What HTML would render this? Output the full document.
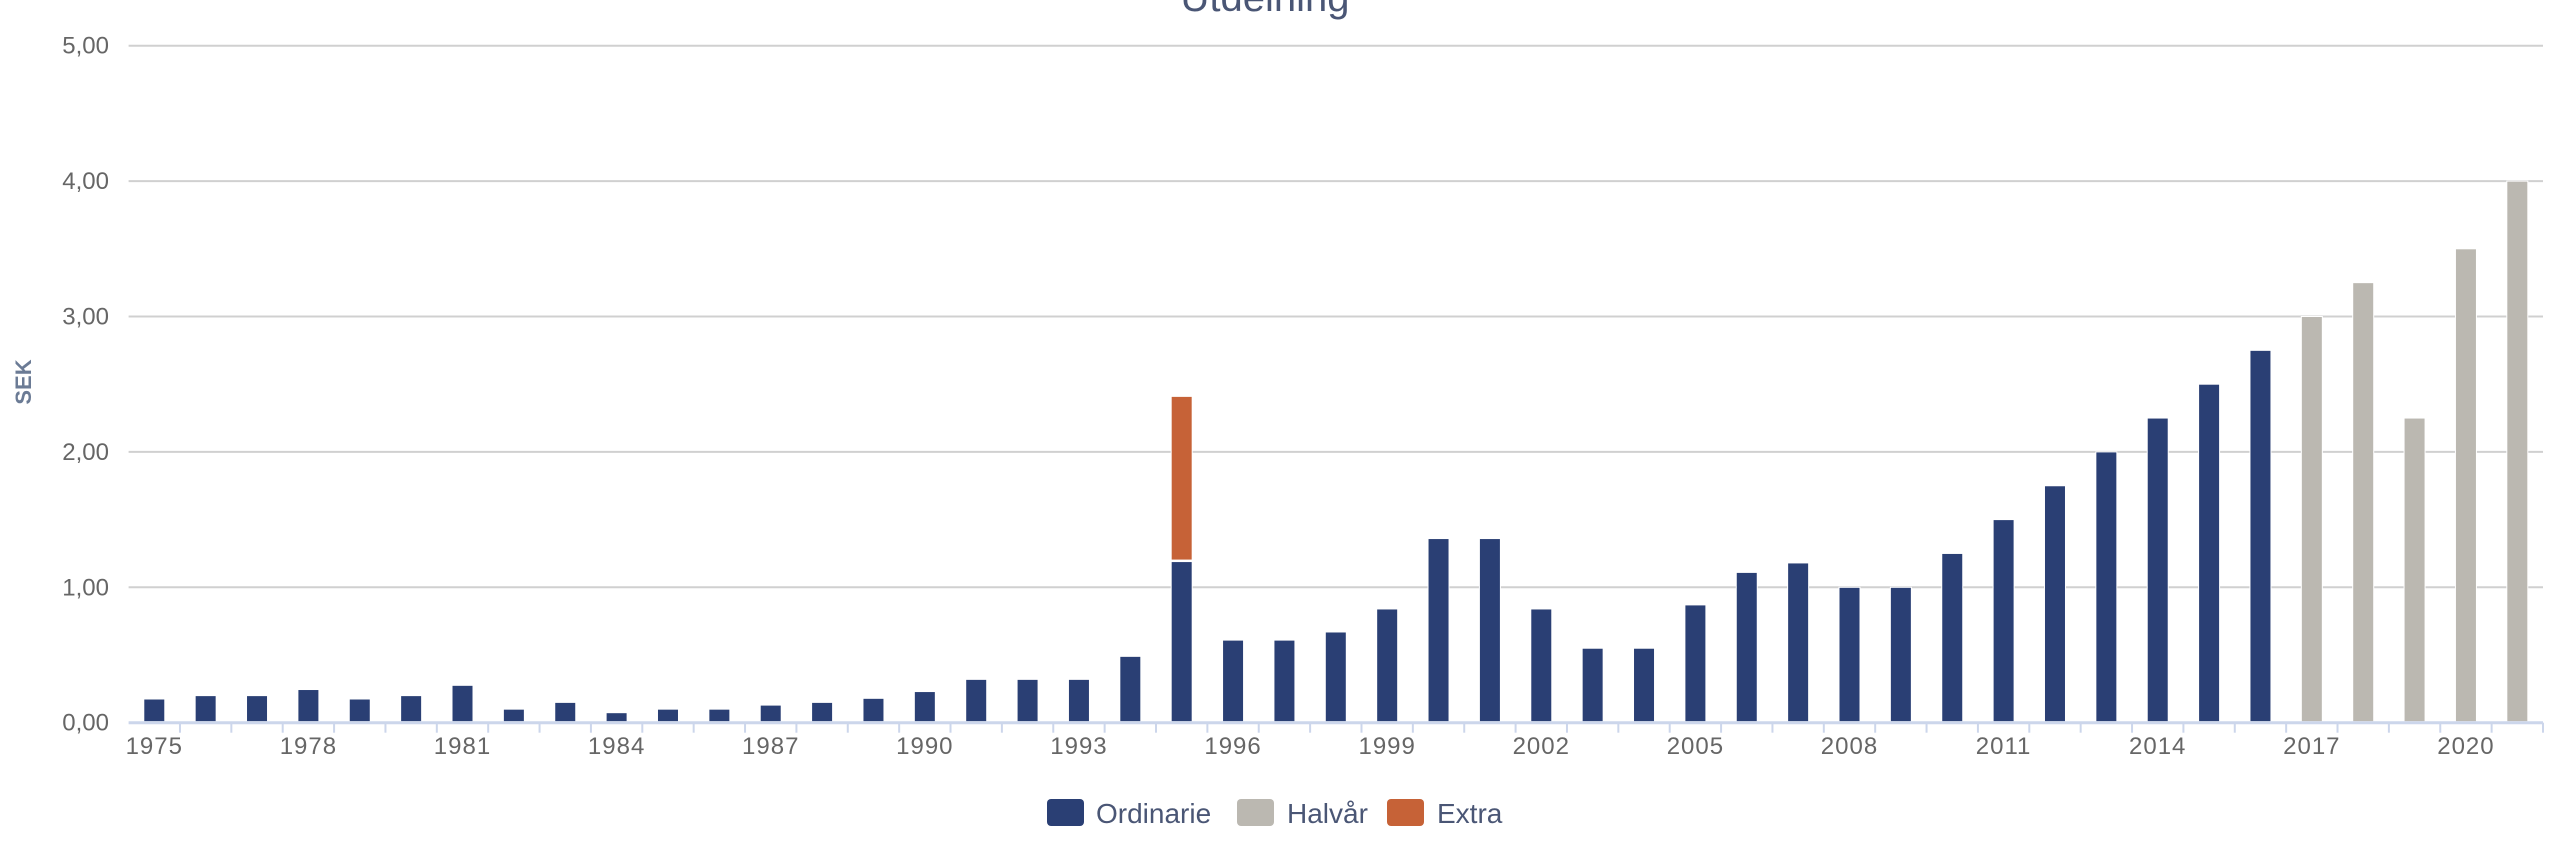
<!DOCTYPE html>
<html><head><meta charset="utf-8"><style>
html,body{margin:0;padding:0;background:#fff;}
svg{display:block;font-family:"Liberation Sans",sans-serif;}
</style></head><body>
<svg id="chart" width="2560" height="859" viewBox="0 0 2560 859" xmlns="http://www.w3.org/2000/svg">
<text x="1265" y="11" text-anchor="middle" font-size="40" fill="#4a5675">Utdelning</text>
<text x="0" y="0" transform="translate(31,382) rotate(-90)" text-anchor="middle" font-size="22" font-weight="bold" fill="#6b7b95">SEK</text>
<g id="grid"></g><g id="bars"></g><g id="xaxis"></g>
<g>
<g><rect x="1047" y="799" width="37" height="27" rx="4" fill="#2a3f74"/><text x="1096" y="823" font-size="28" fill="#4a5675">Ordinarie</text></g>
<g><rect x="1237" y="799" width="37" height="27" rx="4" fill="#bbb8b1"/><text x="1287" y="823" font-size="28" fill="#4a5675">Halvår</text></g>
<g><rect x="1387" y="799" width="37" height="27" rx="4" fill="#c66237"/><text x="1437" y="823" font-size="28" fill="#4a5675">Extra</text></g>
</g>
</svg>
<script>
const years = [1975,1976,1977,1978,1979,1980,1981,1982,1983,1984,1985,1986,1987,1988,1989,1990,1991,1992,1993,1994,1995,1996,1997,1998,1999,2000,2001,2002,2003,2004,2005,2006,2007,2008,2009,2010,2011,2012,2013,2014,2015,2016,2017,2018,2019,2020,2021];
const ordinarie = [0.175,0.20,0.20,0.245,0.175,0.20,0.276,0.10,0.15,0.074,0.10,0.10,0.13,0.15,0.18,0.23,0.32,0.32,0.32,0.49,1.19,0.61,0.61,0.67,0.84,1.36,1.36,0.84,0.55,0.55,0.87,1.11,1.18,1.00,1.00,1.25,1.50,1.75,2.00,2.25,2.50,2.75,0,0,0,0,0];
const halvar = [0,0,0,0,0,0,0,0,0,0,0,0,0,0,0,0,0,0,0,0,0,0,0,0,0,0,0,0,0,0,0,0,0,0,0,0,0,0,0,0,0,0,3.00,3.25,2.25,3.50,4.00];
const extra = [0,0,0,0,0,0,0,0,0,0,0,0,0,0,0,0,0,0,0,0,1.22,0,0,0,0,0,0,0,0,0,0,0,0,0,0,0,0,0,0,0,0,0,0,0,0,0,0];
const yTicks = [0,1,2,3,4,5];
const yTickLabels = ["0,00","1,00","2,00","3,00","4,00","5,00"];

const NS="http://www.w3.org/2000/svg";
const X0=128.6, X1=2543, Y0=722.7, YPX=135.4;
const step=(X1-X0)/years.length;
const y=v=>Y0-v*YPX;
const xc=i=>X0+(i+0.5)*step;
function mk(t,a,p){const e=document.createElementNS(NS,t);for(const k in a)e.setAttribute(k,a[k]);p.appendChild(e);return e;}
const grid=document.getElementById('grid');
yTicks.forEach((v,i)=>{
  if(v>0){const l=mk('line',{x1:X0,x2:X1,y1:y(v),y2:y(v),stroke:'#d0d0d0','stroke-width':2},grid);
  
  }
  const t=mk('text',{x:109,y:y(v)+8,'text-anchor':'end','font-size':24,fill:'#666'},grid);
  t.textContent=yTickLabels[i];
  
  
});
const bars=document.getElementById('bars');
const BW=21;
years.forEach((yr,i)=>{
  let base=0;
  [[ordinarie,'#2a3f74','ordinarie'],[halvar,'#bbb8b1','halvar'],[extra,'#c66237','extra']].forEach(([arr,col,nm])=>{
    const v=arr[i]; if(!v) return;
    const r=mk('rect',{x:xc(i)-BW/2,y:y(base+v),width:BW,height:y(base)-y(base+v)-(base?1.5:1),fill:col,stroke:'#fff','stroke-width':1},bars);
    
    
    base+=v;
  });
});
const xa=document.getElementById('xaxis');
const ax=mk('line',{x1:X0,x2:X1,y1:Y0,y2:Y0,stroke:'#ccd6eb','stroke-width':3},xa);


for(let k=1;k<=years.length;k++){
  const tk=mk('line',{x1:X0+k*step,x2:X0+k*step,y1:Y0,y2:Y0+10,stroke:'#ccd6eb','stroke-width':2},xa);
  
  
}
years.forEach((yr,i)=>{
  if(i%3!==0) return;
  const t=mk('text',{x:xc(i),y:754,'text-anchor':'middle','font-size':24,fill:'#666','letter-spacing':1},xa);
  t.textContent=yr;
  
  
});
</script>
</body></html>
